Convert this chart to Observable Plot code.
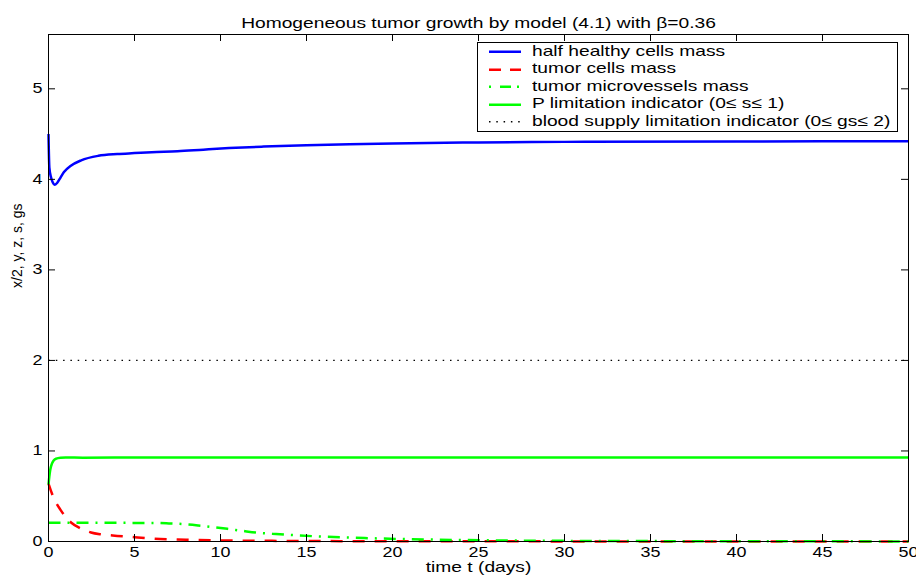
<!DOCTYPE html>
<html>
<head>
<meta charset="utf-8">
<script src="https://cdn.jsdelivr.net/npm/d3@7"></script>
<script src="https://cdn.jsdelivr.net/npm/@observablehq/plot@0.6"></script>
<style>
  html, body { margin: 0; padding: 0; background: #fff; overflow: hidden; }
  #chart { position: relative; width: 916px; height: 576px; }
  .legend {
    position: absolute; left: 477px; top: 42px; width: 419px; height: 88px;
    border: 1px solid #000; background: #fff;
    font-family: "Liberation Sans", Arial, Helvetica, sans-serif; font-size: 15px; color: #000;
  }
  .legend .row { position: absolute; left: 0; width: 100%; height: 17.5px; }
  .legend svg { position: absolute; left: 11px; top: 0; }
  .legend span {
    position: absolute; left: 54px; top: -1.5px; line-height: 17.5px; white-space: nowrap;
    transform: scaleX(1.28); transform-origin: 0 50%;
  }
</style>
</head>
<body>
<div id="chart"></div>
<script>
// Time axis (days) and state variables of model (4.1), beta = 0.36
const titleText = "Homogeneous tumor growth by model (4.1) with \u03b2=0.36";
const xLabel = "time t (days)";
const yLabel = "x/2, y, z, s, gs";
const xTicks = [0, 5, 10, 15, 20, 25, 30, 35, 40, 45, 50];
const yTicks = [0, 1, 2, 3, 4, 5];

// half healthy cells mass x/2
const healthyT = [0, 0.05, 0.15, 0.25, 0.35, 0.5, 0.7, 0.9, 1.3, 1.9, 2.9, 4, 5, 6, 7.5, 9, 10.5, 12.5, 15, 17.5, 20, 25, 30, 40, 50];
const healthyV = [4.5, 4.13, 4.02, 3.965, 3.94, 3.96, 4.02, 4.08, 4.15, 4.21, 4.26, 4.28, 4.29, 4.30, 4.31, 4.328, 4.345, 4.362, 4.378, 4.389, 4.397, 4.408, 4.414, 4.419, 4.42];

// tumor cells mass y
const tumorT = [0, 0.2, 0.44, 0.7, 1.0, 1.31, 1.8, 2.47, 3, 3.73, 5, 6.15, 8, 10, 13, 17, 25, 35, 50];
const tumorV = [0.64, 0.53, 0.43, 0.35, 0.27, 0.21, 0.15, 0.10, 0.08, 0.066, 0.047, 0.03, 0.019, 0.012, 0.007, 0.004, 0.002, 0.001, 0.001];

// tumor microvessels mass z
const vesselT = [0, 3, 6, 7, 7.5, 8.1, 8.7, 9.5, 10.4, 11.3, 12.2, 13, 13.9, 15.8, 18.7, 22, 26, 30, 40, 50];
const vesselV = [0.206, 0.206, 0.205, 0.2, 0.196, 0.188, 0.177, 0.16, 0.14, 0.117, 0.096, 0.085, 0.074, 0.055, 0.036, 0.022, 0.012, 0.007, 0.003, 0.001];

// P limitation indicator s
const limitT = [0, 0.05, 0.1, 0.2, 0.3, 0.45, 0.7, 1, 2, 5, 10, 20, 50];
const limitV = [0.63, 0.72, 0.79, 0.86, 0.895, 0.915, 0.925, 0.928, 0.926, 0.927, 0.928, 0.928, 0.928];

// blood supply limitation indicator gs
const supplyT = [0, 50];
const supplyV = [2, 2];

const series = [
  {name: "half healthy cells mass", t: healthyT, v: healthyV, color: "#0000ff", width: 2.5, dash: null, legendDash: null},
  {name: "tumor cells mass", t: tumorT, v: tumorV, color: "#ff0000", width: 2.5, dash: "12 10", legendDash: "12 9"},
  {name: "tumor microvessels mass", t: vesselT, v: vesselV, color: "#00ff00", width: 2.5, dash: "12 7 2 7", legendDash: "2 9 11 6 2 20"},
  {name: "P limitation indicator (0\u2264 s\u2264 1)", t: limitT, v: limitV, color: "#00ff00", width: 2.5, dash: null, legendDash: null},
  {name: "blood supply limitation indicator (0\u2264 gs\u2264 2)", t: supplyT, v: supplyV, color: "#000000", width: 1.3, dash: "1.5 5.8", legendDash: "1.5 5.8"}
];

const rows = s => s.t.map((t, i) => ({t, v: s.v[i]}));

// layout of the axes box
const W = 916, H = 576;
const M = {left: 48, right: 8, top: 34, bottom: 35};
const frameW = W - M.left - M.right;
const frameH = H - M.top - M.bottom;
const TICK = 7; // inward tick length, px

const plot = Plot.plot({
  width: W,
  height: H,
  marginLeft: M.left,
  marginRight: M.right,
  marginTop: M.top,
  marginBottom: M.bottom,
  style: {fontFamily: '"Liberation Sans", Arial, Helvetica, sans-serif', fontSize: "14px", color: "#000", background: "#fff"},
  x: {domain: [0, 50]},
  y: {domain: [0, 5.6]},
  marks: [
    ...series.map(s => Plot.line(rows(s), {
      x: "t", y: "v", stroke: s.color, strokeWidth: s.width,
      strokeDasharray: s.dash, curve: "monotone-x", strokeLinecap: "butt"
    })),
    Plot.frame({stroke: "#000", strokeWidth: 1}),
    // inward ticks on all four sides of the box
    Plot.tickX(xTicks, {x: d => d, insetTop: frameH - TICK, stroke: "#000", strokeWidth: 1}),
    Plot.tickX(xTicks, {x: d => d, insetBottom: frameH - TICK, stroke: "#000", strokeWidth: 1}),
    Plot.tickY(yTicks, {y: d => d, insetRight: frameW - TICK, stroke: "#000", strokeWidth: 1}),
    Plot.tickY(yTicks, {y: d => d, insetLeft: frameW - TICK, stroke: "#000", strokeWidth: 1}),
    Plot.axisX(xTicks, {anchor: "bottom", tickSize: 0, tickPadding: 6, tickFormat: d => String(d), label: null}),
    Plot.axisY(yTicks, {anchor: "left", tickSize: 0, tickPadding: 6, tickFormat: d => String(d), label: null}),
    Plot.text([titleText], {frameAnchor: "top", dy: -17, fontSize: 15, text: d => d, fill: "#000"}),
    Plot.text([xLabel], {frameAnchor: "bottom", dy: 30, fontSize: 15, text: d => d, fill: "#000"}),
    Plot.text([yLabel], {frameAnchor: "left", dx: -30.5, rotate: -90, fontSize: 14, text: d => d, fill: "#000"})
  ]
});

const chart = document.getElementById("chart");
chart.appendChild(plot);

// Widen horizontal text glyphs to the chart's wide sans style
const K = 1.28;
plot.querySelectorAll("text").forEach(el => {
  if ((el.getAttribute("transform") || "").includes("rotate")) return;
  const len = el.getComputedTextLength();
  if (len > 0) {
    el.setAttribute("textLength", (len * K).toFixed(2));
    el.setAttribute("lengthAdjust", "spacingAndGlyphs");
  }
});

// Legend box in the upper right of the axes
const legend = document.createElement("div");
legend.className = "legend";
series.forEach((s, i) => {
  const row = document.createElement("div");
  row.className = "row";
  row.style.top = (17.5 * i) + "px";
  const svg = d3.create("svg").attr("width", 32).attr("height", 17.5);
  svg.append("line")
    .attr("x1", 0).attr("x2", 32).attr("y1", 8.75).attr("y2", 8.75)
    .attr("stroke", s.color).attr("stroke-width", s.width)
    .attr("stroke-dasharray", s.legendDash);
  row.appendChild(svg.node());
  const label = document.createElement("span");
  label.textContent = s.name;
  row.appendChild(label);
  legend.appendChild(row);
});
chart.appendChild(legend);
</script>
</body>
</html>
